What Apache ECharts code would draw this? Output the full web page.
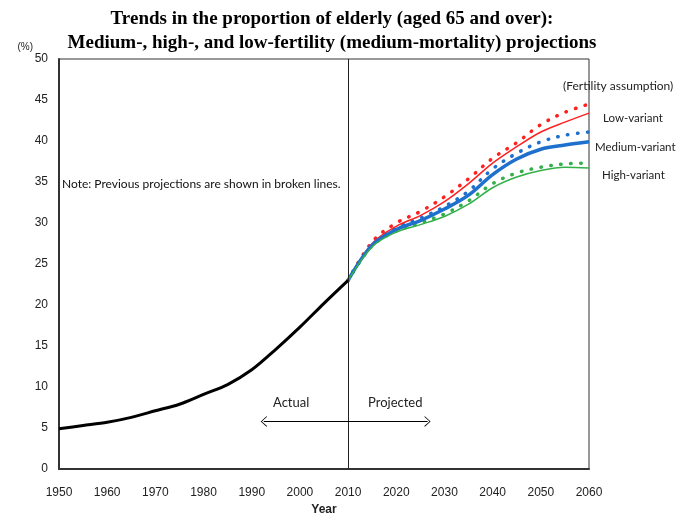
<!DOCTYPE html>
<html>
<head>
<meta charset="utf-8">
<script src="https://cdn.jsdelivr.net/npm/echarts@6/dist/echarts.min.js"></script>
<style>
  html, body { margin: 0; padding: 0; background: #fff; }
  #chart { width: 678px; height: 515px; }
</style>
</head>
<body>
<div id="chart"></div>
<script>
// actual, 1950-2010
const actualYears = [1950, 1955, 1960, 1965, 1970, 1975, 1980, 1985, 1990, 1995, 2000, 2005, 2010];
const actual = [4.9, 5.3, 5.7, 6.3, 7.1, 7.9, 9.1, 10.3, 12.1, 14.6, 17.3, 20.2, 23.0];

// projections, 2010-2060
const projYears = [2010, 2015, 2020, 2025, 2030, 2035, 2040, 2045, 2050, 2055, 2060];
const lowVariant = [23.0, 27.5, 29.6, 30.9, 32.6, 34.8, 37.3, 39.3, 41.1, 42.3, 43.4];
const mediumVariant = [23.0, 27.3, 29.2, 30.3, 31.7, 33.4, 35.9, 37.8, 39.0, 39.5, 39.9];
const highVariant = [23.0, 27.1, 28.9, 29.8, 30.8, 32.3, 34.3, 35.6, 36.4, 36.8, 36.7];

// previous projections (broken lines)
const lowPrev = [23.0, 27.7, 30.0, 31.4, 33.2, 35.4, 37.9, 39.8, 42.0, 43.5, 44.5];
const mediumPrev = [23.0, 27.4, 29.4, 30.6, 32.0, 33.9, 36.6, 38.5, 39.9, 40.7, 41.1];
const highPrev = [23.0, 27.2, 29.0, 30.0, 31.1, 32.7, 34.8, 36.1, 36.8, 37.2, 37.3];

const xTicks = [1950, 1960, 1970, 1980, 1990, 2000, 2010, 2020, 2030, 2040, 2050, 2060];

const RED = "#ff2020";
const BLUE = "#1f6fcc";
const GREEN = "#33b04a";
const textFont = "Lato";

const pairs = (xs, ys) => xs.map((x, i) => [x, ys[i]]);

const chart = echarts.init(document.getElementById("chart"));

function solid(name, data, color, width) {
    return {
        name: name,
        type: "line",
        data: pairs(projYears, data),
        smooth: 0.35,
        symbol: "none",
        lineStyle: { color: color, width: width },
        z: 3,
    };
}

function broken(name, data, color) {
    return {
        name: name,
        type: "line",
        data: pairs(projYears, data),
        smooth: 0.35,
        symbol: "none",
        lineStyle: { color: color, width: 3.5, type: [0.5, 9.5], cap: "round" },
        z: 2,
    };
}

const option = {
    animation: false,
    title: {
        text: "Trends in the proportion of elderly (aged 65 and over):\nMedium-, high-, and low-fertility (medium-mortality) projections",
        left: 327,
        textAlign: "center",
        top: 2,
        textStyle: {
            fontFamily: "Liberation Serif",
            fontWeight: "bold",
            fontSize: 19,
            lineHeight: 24,
            color: "#000",
        },
    },
    grid: {
        left: 59,
        right: 89,
        top: 59,
        bottom: 46,
        outerBoundsMode: "none",
        show: true,
        borderColor: "#333",
        borderWidth: 1,
    },
    xAxis: {
        type: "value",
        min: 1950,
        max: 2060,
        interval: 10,
        name: "Year",
        nameLocation: "middle",
        nameGap: 35,
        nameTextStyle: { fontFamily: "Liberation Sans", fontWeight: "bold", fontSize: 12, color: "#222" },
        axisLine: { lineStyle: { color: "#333", width: 2 } },
        axisTick: { show: false },
        splitLine: { show: false },
        axisLabel: {
            margin: 18,
            fontFamily: "Liberation Sans",
            fontSize: 12,
            color: "#222",
            formatter: (v) => (xTicks.includes(v) ? String(v) : ""),
        },
    },
    yAxis: {
        type: "value",
        min: 0,
        max: 50,
        interval: 5,
        name: "(%)",
        nameLocation: "end",
        nameGap: 7,
        nameTextStyle: { fontFamily: "Liberation Sans", fontSize: 10, color: "#222", align: "right", padding: [0, 26, 0, 0] },
        axisLine: { show: true, lineStyle: { color: "#333", width: 2 } },
        axisTick: { show: false },
        splitLine: { show: false },
        axisLabel: { margin: 11, fontFamily: "Liberation Sans", fontSize: 12, color: "#222" },
    },
    series: [
        {
            name: "Actual",
            type: "line",
            data: pairs(actualYears, actual),
            smooth: 0.3,
            symbol: "none",
            lineStyle: { color: "#000", width: 3 },
            z: 4,
            markLine: {
                silent: true,
                symbol: "none",
                label: { show: false },
                lineStyle: { color: "#222", width: 1, type: "solid" },
                data: [{ xAxis: 2010 }],
            },
        },
        broken("Low-variant (previous)", lowPrev, RED),
        broken("Medium-variant (previous)", mediumPrev, BLUE),
        broken("High-variant (previous)", highPrev, GREEN),
        solid("Low-variant", lowVariant, RED, 1.5),
        solid("Medium-variant", mediumVariant, BLUE, 3.5),
        solid("High-variant", highVariant, GREEN, 1.5),
        {
            // Actual <-> Projected arrow
            type: "line",
            data: [],
            markLine: {
                silent: true,
                symbol: ["path://M5,0 L10,10 L9,10 L5,1.8 L1,10 L0,10 Z", "path://M5,0 L10,10 L9,10 L5,1.8 L1,10 L0,10 Z"],
                symbolSize: [11, 6],
                lineStyle: { color: "#000", width: 1, type: "solid" },
                label: { show: false },
                data: [[{ coord: [1992.5, 5.8] }, { coord: [2026.5, 5.8] }]],
            },
        },
    ],
    graphic: [
        { type: "text", left: 62, top: 178, style: { text: "Note: Previous projections are shown in broken lines.", font: "12px " + textFont, fill: "#111" } },
        { type: "text", left: 273, top: 396, style: { text: "Actual", font: "13px " + textFont, fill: "#222" } },
        { type: "text", left: 368, top: 396, style: { text: "Projected", font: "13px " + textFont, fill: "#222" } },
        { type: "text", left: 563, top: 80, style: { text: "(Fertility assumption)", font: "12px " + textFont, fill: "#222" } },
        { type: "text", left: 603, top: 112, style: { text: "Low-variant", font: "11.5px " + textFont, fill: "#222" } },
        { type: "text", left: 595, top: 141, style: { text: "Medium-variant", font: "11.5px " + textFont, fill: "#222" } },
        { type: "text", left: 602, top: 169, style: { text: "High-variant", font: "11.5px " + textFont, fill: "#222" } },
    ],
};

chart.setOption(option);
</script>
</body>
</html>
